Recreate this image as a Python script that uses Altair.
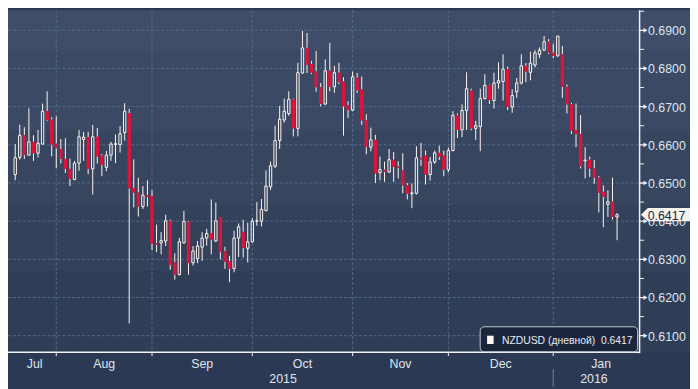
import altair as alt
import pandas as pd

# ---------------- data (NZDUSD daily candles) ----------------
series_name = "NZDUSD (дневной)"
start_date = "2015-07-21"

opens = [
    0.6522, 0.6567, 0.6625, 0.6573, 0.6608, 0.6578, 0.6602, 0.6688, 0.6666, 0.6603,
    0.6589, 0.6563, 0.6537, 0.6509, 0.6552, 0.6614, 0.6620, 0.6537, 0.6621, 0.6572,
    0.6541, 0.6573, 0.6601, 0.6601, 0.6632, 0.6683, 0.6487, 0.6475, 0.6438, 0.6468,
    0.6466, 0.6342, 0.6343, 0.6348, 0.6401, 0.6292, 0.6260, 0.6343, 0.6399, 0.6291,
    0.6302, 0.6332, 0.6356, 0.6368, 0.6348, 0.6410, 0.6321, 0.6295, 0.6276, 0.6356,
    0.6372, 0.6329, 0.6346, 0.6400, 0.6400, 0.6428, 0.6490, 0.6544, 0.6611, 0.6665,
    0.6682, 0.6719, 0.6643, 0.6788, 0.6854, 0.6812, 0.6792, 0.6751, 0.6707, 0.6794,
    0.6752, 0.6789, 0.6766, 0.6704, 0.6691, 0.6776, 0.6745, 0.6665, 0.6594, 0.6613,
    0.6527, 0.6535, 0.6529, 0.6561, 0.6543, 0.6533, 0.6494, 0.6472, 0.6473, 0.6566,
    0.6572, 0.6522, 0.6555, 0.6579, 0.6572, 0.6535, 0.6585, 0.6677, 0.6639, 0.6690,
    0.6742, 0.6643, 0.6648, 0.6721, 0.6756, 0.6716, 0.6762, 0.6766, 0.6798, 0.6699,
    0.6739, 0.6762, 0.6807, 0.6790, 0.6809, 0.6837, 0.6848, 0.6870, 0.6841, 0.6833,
    0.6837, 0.6752, 0.6706, 0.6639, 0.6628, 0.6558, 0.6561, 0.6538, 0.6514, 0.6477,
    0.6444, 0.6451, 0.6411,
]
highs = [
    0.6602, 0.6653, 0.6646, 0.6696, 0.6625, 0.6639, 0.6708, 0.6740, 0.6672, 0.6675,
    0.6615, 0.6617, 0.6564, 0.6558, 0.6639, 0.6634, 0.6634, 0.6652, 0.6644, 0.6576,
    0.6584, 0.6608, 0.6627, 0.6649, 0.6709, 0.6694, 0.6562, 0.6514, 0.6492, 0.6507,
    0.6481, 0.6391, 0.6371, 0.6417, 0.6404, 0.6316, 0.6356, 0.6427, 0.6401, 0.6335,
    0.6348, 0.6371, 0.6380, 0.6457, 0.6449, 0.6411, 0.6333, 0.6309, 0.6375, 0.6394,
    0.6404, 0.6396, 0.6408, 0.6450, 0.6458, 0.6533, 0.6556, 0.6650, 0.6702, 0.6721,
    0.6740, 0.6721, 0.6815, 0.6898, 0.6893, 0.6820, 0.6846, 0.6762, 0.6824, 0.6867,
    0.6807, 0.6815, 0.6777, 0.6714, 0.6792, 0.6788, 0.6779, 0.6680, 0.6645, 0.6626,
    0.6569, 0.6556, 0.6589, 0.6581, 0.6557, 0.6578, 0.6500, 0.6499, 0.6596, 0.6605,
    0.6585, 0.6568, 0.6585, 0.6598, 0.6585, 0.6593, 0.6688, 0.6682, 0.6706, 0.6790,
    0.6747, 0.6663, 0.6747, 0.6785, 0.6758, 0.6789, 0.6816, 0.6837, 0.6805, 0.6745,
    0.6775, 0.6837, 0.6814, 0.6844, 0.6848, 0.6855, 0.6885, 0.6877, 0.6865, 0.6885,
    0.6859, 0.6758, 0.6710, 0.6708, 0.6678, 0.6594, 0.6569, 0.6560, 0.6518, 0.6494,
    0.6481, 0.6514, 0.6421,
]
lows = [
    0.6507, 0.6561, 0.6563, 0.6572, 0.6558, 0.6567, 0.6600, 0.6663, 0.6570, 0.6539,
    0.6551, 0.6526, 0.6492, 0.6507, 0.6532, 0.6558, 0.6523, 0.6470, 0.6551, 0.6518,
    0.6531, 0.6558, 0.6552, 0.6580, 0.6611, 0.6132, 0.6436, 0.6412, 0.6432, 0.6438,
    0.6324, 0.6319, 0.6313, 0.6335, 0.6273, 0.6247, 0.6258, 0.6342, 0.6260, 0.6284,
    0.6290, 0.6296, 0.6336, 0.6313, 0.6345, 0.6300, 0.6275, 0.6240, 0.6266, 0.6306,
    0.6305, 0.6292, 0.6344, 0.6388, 0.6386, 0.6425, 0.6482, 0.6539, 0.6589, 0.6658,
    0.6676, 0.6622, 0.6622, 0.6786, 0.6788, 0.6785, 0.6739, 0.6701, 0.6704, 0.6740,
    0.6736, 0.6759, 0.6624, 0.6670, 0.6688, 0.6736, 0.6652, 0.6575, 0.6583, 0.6500,
    0.6507, 0.6503, 0.6526, 0.6503, 0.6512, 0.6473, 0.6457, 0.6434, 0.6470, 0.6545,
    0.6496, 0.6506, 0.6550, 0.6560, 0.6518, 0.6528, 0.6583, 0.6618, 0.6620, 0.6639,
    0.6638, 0.6613, 0.6583, 0.6719, 0.6707, 0.6695, 0.6747, 0.6716, 0.6691, 0.6684,
    0.6723, 0.6758, 0.6764, 0.6769, 0.6803, 0.6827, 0.6846, 0.6838, 0.6827, 0.6831,
    0.6723, 0.6682, 0.6628, 0.6594, 0.6538, 0.6512, 0.6516, 0.6498, 0.6423, 0.6384,
    0.6411, 0.6404, 0.6350,
]
closes = [
    0.6566, 0.6625, 0.6573, 0.6608, 0.6578, 0.6604, 0.6688, 0.6665, 0.6601, 0.6591,
    0.6563, 0.6537, 0.6511, 0.6552, 0.6621, 0.6620, 0.6537, 0.6621, 0.6570, 0.6547,
    0.6573, 0.6602, 0.6603, 0.6629, 0.6688, 0.6486, 0.6475, 0.6438, 0.6468, 0.6464,
    0.6341, 0.6338, 0.6349, 0.6401, 0.6285, 0.6260, 0.6346, 0.6399, 0.6290, 0.6322,
    0.6335, 0.6356, 0.6368, 0.6352, 0.6401, 0.6319, 0.6293, 0.6276, 0.6356, 0.6385,
    0.6330, 0.6346, 0.6400, 0.6401, 0.6431, 0.6492, 0.6545, 0.6611, 0.6667, 0.6688,
    0.6719, 0.6643, 0.6789, 0.6854, 0.6809, 0.6789, 0.6751, 0.6707, 0.6794, 0.6752,
    0.6789, 0.6764, 0.6701, 0.6691, 0.6778, 0.6743, 0.6664, 0.6594, 0.6613, 0.6525,
    0.6535, 0.6529, 0.6561, 0.6542, 0.6540, 0.6494, 0.6472, 0.6474, 0.6566, 0.6562,
    0.6522, 0.6555, 0.6579, 0.6569, 0.6535, 0.6585, 0.6677, 0.6639, 0.6690, 0.6747,
    0.6643, 0.6650, 0.6721, 0.6756, 0.6717, 0.6762, 0.6768, 0.6798, 0.6699, 0.6729,
    0.6762, 0.6807, 0.6792, 0.6814, 0.6841, 0.6848, 0.6870, 0.6841, 0.6833, 0.6885,
    0.6752, 0.6706, 0.6637, 0.6628, 0.6544, 0.6560, 0.6538, 0.6514, 0.6474, 0.6464,
    0.6451, 0.6411, 0.6417,
]
month_names = ["Jul", "Aug", "Sep", "Oct", "Nov", "Dec", "Jan"]
year_names = ["2015", "2016"]
y_major = [0.61, 0.62, 0.63, 0.64, 0.65, 0.66, 0.67, 0.68, 0.69]
y_minor = [0.615, 0.625, 0.635, 0.645, 0.655, 0.665, 0.675, 0.685, 0.695]

n = len(closes)
assert len(opens) == n and len(highs) == n and len(lows) == n

# ---------------- layout / style ----------------
W, H = 639, 346
X_MIN, X_MAX = -0.5, 135.86
Y_MIN, Y_MAX = 0.60568, 0.69526
FONT = "Liberation Sans"
RED = "#dc143c"
UP = "#fff6f0"
AX = "#f2f2f2"
LAB = "#dfe5ee"
GRID = "#4f6c88"

dates = pd.bdate_range(start_date, periods=n)
df = pd.DataFrame({"i": range(n), "o": opens, "h": highs, "l": lows, "c": closes})

month_starts = [i for i in range(1, n) if dates[i].month != dates[i - 1].month]
jan_len = len(pd.bdate_range("2016-01-01", "2016-01-31"))
edges = [X_MIN] + month_starts + [month_starts[-1] + jan_len]
month_df = pd.DataFrame({
    "name": month_names,
    "pos": [(edges[k] + edges[k + 1]) / 2 for k in range(len(month_names))],
})
ms_df = pd.DataFrame({"i": month_starts})
year_start = [i for i in range(1, n) if dates[i].year != dates[i - 1].year][0]
year_df = pd.DataFrame({
    "name": year_names,
    "pos": [(X_MIN + year_start) / 2, (year_start + X_MAX) / 2],
})
ysep_df = pd.DataFrame({"i": [year_start]})
major_df = pd.DataFrame({"v": y_major})
minor_df = pd.DataFrame({"v": y_minor})
last_df = df.tail(1)
legend_df = pd.DataFrame({"t": [f"{series_name}\u00a0\u00a0{closes[-1]:.4f}"]})
one = pd.DataFrame({"a": [0]})

xs = alt.Scale(domain=[X_MIN, X_MAX], nice=False, zero=False)
ys = alt.Scale(domain=[Y_MIN, Y_MAX], nice=False, zero=False)
X = alt.X("i:Q", scale=xs, axis=None)


def Y(field):
    return alt.Y(field, scale=ys, axis=None)


bands = ["#3f4d68", "#3b4964", "#37455f", "#33415b", "#2f3d57"]
cuts = [0.0, 0.1156, 0.3526, 0.5694, 0.763, 1.0]
stops = []
for k, col in enumerate(bands):
    stops.append(alt.GradientStop(color=col, offset=cuts[k]))
    stops.append(alt.GradientStop(color=col, offset=cuts[k + 1]))
grad = alt.Gradient(gradient="linear", stops=stops, x1=0, x2=0, y1=0, y2=1)

bg = alt.Chart(one).mark_rect(color=grad).encode(
    x=alt.value(0), x2=alt.value(W + 51), y=alt.value(0), y2=alt.value(H)
)
hgrid = alt.Chart(major_df).mark_rule(color=GRID, strokeDash=[3, 2], strokeWidth=1).encode(
    y=Y("v:Q"), x=alt.value(0), x2=alt.value(W)
)
vgrid = alt.Chart(ms_df).mark_rule(color=GRID, strokeDash=[3, 2], strokeWidth=1).encode(
    x=X, y=alt.value(0), y2=alt.value(H)
)

cbase = alt.Chart(df).transform_calculate(
    top="max(datum.o, datum.c)", bot="min(datum.o, datum.c)"
)
wick_hi = cbase.mark_rule(color=UP, strokeWidth=1).encode(x=X, y=Y("h:Q"), y2="top:Q")
wick_lo = cbase.mark_rule(color=UP, strokeWidth=1).encode(x=X, y=Y("bot:Q"), y2="l:Q")
up = cbase.transform_filter("datum.c >= datum.o").mark_bar(
    filled=False, color=UP, strokeWidth=1, size=2.4
).encode(x=X, y=Y("o:Q"), y2="c:Q")
down = cbase.transform_filter("datum.c < datum.o").mark_bar(
    color=RED, size=3.4
).encode(x=X, y=Y("o:Q"), y2="c:Q")

xdomain = alt.Chart(one).mark_rule(color=AX, strokeWidth=1.5).encode(
    x=alt.value(0), x2=alt.value(W), y=alt.value(H)
)
ydomain = alt.Chart(one).mark_rule(color=AX, strokeWidth=1.5).encode(
    x=alt.value(W), y=alt.value(0), y2=alt.value(H + 1)
)
xticks = alt.Chart(ms_df).mark_rule(color=AX, strokeWidth=1).encode(
    x=X, y=alt.value(H), y2=alt.value(H + 4)
)
yminor = alt.Chart(minor_df).mark_rule(color=AX, strokeWidth=1).encode(
    y=Y("v:Q"), x=alt.value(W), x2=alt.value(W + 4.5)
)
TICK_SHAPE = "M-1,-0.16 L0,-0.16 L0,-0.6 L1,0 L0,0.6 L0,0.16 L-1,0.16 Z"
ymajor = alt.Chart(major_df).mark_point(
    shape=TICK_SHAPE, filled=True, color=AX, size=64, opacity=1, strokeWidth=0
).encode(y=Y("v:Q"), x=alt.value(W + 4))
ylabels = alt.Chart(major_df).mark_text(
    align="left", baseline="middle", dy=1, font=FONT, fontSize=12.5, color=LAB
).encode(y=Y("v:Q"), x=alt.value(W + 8.5), text=alt.Text("v:Q", format=".4f"))

mlabels = alt.Chart(month_df).mark_text(
    align="center", baseline="alphabetic", font=FONT, fontSize=12.5, color=LAB
).encode(x=alt.X("pos:Q", scale=xs, axis=None), y=alt.value(H + 16), text="name:N")
ylabels2 = alt.Chart(year_df).mark_text(
    align="center", baseline="alphabetic", font=FONT, fontSize=12.5, color=LAB
).encode(x=alt.X("pos:Q", scale=xs, axis=None), y=alt.value(H + 31), text="name:N")
ysep = alt.Chart(ysep_df).mark_rule(color="#7d8594", strokeWidth=1).encode(
    x=X, y=alt.value(H + 17), y2=alt.value(H + 35)
)

leg_box = alt.Chart(one).mark_rect(
    fill="#1b263d", stroke="#c2c7d0", strokeWidth=1, cornerRadius=4
).encode(x=alt.value(W - 161.3), x2=alt.value(W - 2), y=alt.value(H - 25.7), y2=alt.value(H - 0.5))
leg_sq = alt.Chart(one).mark_rect(fill=UP).encode(
    x=alt.value(W - 154.3), x2=alt.value(W - 147.7), y=alt.value(H - 16.7), y2=alt.value(H - 8.3)
)
leg_txt = alt.Chart(legend_df).mark_text(
    align="left", baseline="alphabetic", font=FONT, fontSize=10.5, color="#e8ecf2"
).encode(x=alt.value(W - 139.3), y=alt.value(H - 8.6), text="t:N")

TAG_SHAPE = "M-1,0 L-0.73,-0.26 L1,-0.26 L1,0.26 L-0.73,0.26 Z"
tag = alt.Chart(last_df).mark_point(
    shape=TAG_SHAPE, filled=True, color="#f6f2ee", size=2704, opacity=1, strokeWidth=0
).encode(x=alt.value(W + 27.3), y=Y("c:Q"))
tag_txt = alt.Chart(last_df).mark_text(
    align="center", baseline="middle", dy=1, font=FONT, fontSize=12.5, color="#1c2741"
).encode(x=alt.value(W + 27.3), y=Y("c:Q"), text=alt.Text("c:Q", format=".4f"))

chart = alt.layer(
    bg, hgrid, vgrid, wick_hi, wick_lo, up, down,
    xdomain, ydomain, xticks, yminor, ymajor, ylabels,
    mlabels, ylabels2, ysep, leg_box, leg_sq, leg_txt, tag, tag_txt,
).properties(
    width=W, height=H,
    autosize=alt.AutoSizeParams(type="none"),
    padding={"left": 0, "top": 0, "right": 51, "bottom": 35},
).configure(
    background="#2c3954",
).configure_view(stroke=None)

chart.save("out.html", embed_options={"renderer": "svg", "actions": False})
